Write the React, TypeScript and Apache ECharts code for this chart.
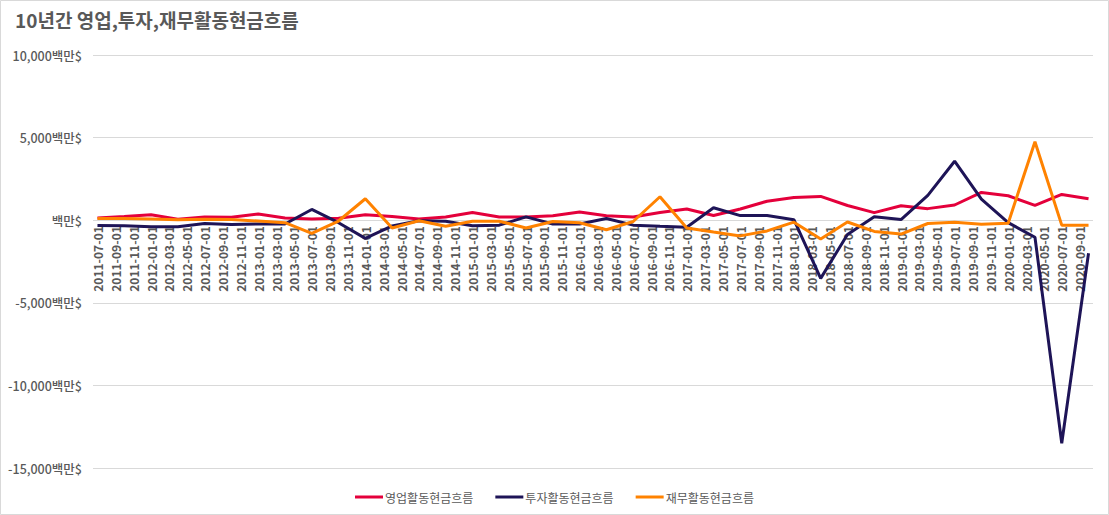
import React, { useEffect, useRef } from "react";
import * as echarts from "echarts";

const title = "10년간 영업,투자,재무활동현금흐름";
const seriesNames = ["영업활동현금흐름", "투자활동현금흐름", "재무활동현금흐름"];
const colors = ["#E4003B", "#1E1457", "#FF8200"];

// quarterly observation dates
const dates = [
  "2011-07-01", "2011-10-01", "2012-01-01", "2012-04-01", "2012-07-01", "2012-10-01",
  "2013-01-01", "2013-04-01", "2013-07-01", "2013-10-01", "2014-01-01", "2014-04-01",
  "2014-07-01", "2014-10-01", "2015-01-01", "2015-04-01", "2015-07-01", "2015-10-01",
  "2016-01-01", "2016-04-01", "2016-07-01", "2016-10-01", "2017-01-01", "2017-04-01",
  "2017-07-01", "2017-10-01", "2018-01-01", "2018-04-01", "2018-07-01", "2018-10-01",
  "2019-01-01", "2019-04-01", "2019-07-01", "2019-10-01", "2020-01-01", "2020-04-01",
  "2020-07-01", "2020-10-01",
];

const operating = [
  130, 220, 330, 60, 200, 180, 380, 130, 80, 120, 330, 220, 70, 190, 470, 190, 190, 270,
  500, 270, 190, 460, 680, 280, 680, 1150, 1370, 1440, 890, 460, 870, 700, 920, 1680,
  1480, 900, 1560, 1300,
];
const investing = [
  -320, -340, -400, -400, -200, -260, -230, -230, 650, -150, -1100, -350, -30, -60, -330,
  -300, 200, -230, -230, 100, -300, -370, -430, 750, 280, 280, 30, -3520, -870, 210, 40,
  1500, 3570, 1270, -150, -1030, -13500, -2000,
];
const financing = [
  100, 100, 80, 30, 60, 40, -50, -150, -800, -50, 1300, -470, -30, -370, -60, -60, -470,
  -80, -150, -580, -80, 1420, -470, -720, -950, -650, -120, -1140, -110, -680, -840, -200,
  -130, -250, -180, 4750, -300, -300,
];

const yMin = -15000;
const yMax = 10000;
const yStep = 5000;

// monthly date axis (Excel-style date axis) spanning the observations
function buildMonths(first: string, last: string): string[] {
  const out: string[] = [];
  let y = parseInt(first.slice(0, 4), 10);
  let m = parseInt(first.slice(5, 7), 10);
  const ly = parseInt(last.slice(0, 4), 10);
  const lm = parseInt(last.slice(5, 7), 10);
  while (y < ly || (y === ly && m <= lm)) {
    out.push(`${y}-${String(m).padStart(2, "0")}-01`);
    m += 1;
    if (m > 12) {
      m = 1;
      y += 1;
    }
  }
  return out;
}
const months = buildMonths(dates[0], dates[dates.length - 1]);

const FONT = "'Noto Sans CJK KR', 'Noto Sans', sans-serif";
const TEXT = "#595959";

const GRID_TOP = 55;
const GRID_BOTTOM = 47;
const CHART_H = 515;

export default function App() {
  const ref = useRef<HTMLDivElement>(null);
  useEffect(() => {
    if (!ref.current) return;
    const chart = echarts.init(ref.current, undefined, { renderer: "svg" });
    const values = [operating, investing, financing];
    // place the category axis where the value axis crosses zero
    const plotH = CHART_H - GRID_TOP - GRID_BOTTOM;
    const zeroFromBottom = ((0 - yMin) / (yMax - yMin)) * plotH;
    chart.setOption({
      animation: false,
      backgroundColor: "#ffffff",
      textStyle: { fontFamily: FONT },
      title: {
        text: title,
        left: 15,
        top: 10,
        padding: 0,
        textStyle: { fontFamily: FONT, fontSize: 19, fontWeight: "bold", color: TEXT },
      },
      graphic: [
        {
          type: "rect",
          shape: { x: 0.5, y: 0.5, width: 1108, height: 514 },
          style: { fill: "none", stroke: "#d9d9d9", lineWidth: 1 },
          silent: true,
        },
      ],
      legend: {
        left: "center",
        top: 486,
        icon: "rect",
        itemWidth: 28,
        itemHeight: 3,
        itemGap: 22,
        textStyle: { fontFamily: FONT, fontSize: 12, color: TEXT, padding: [0, 0, 0, -3] },
        data: seriesNames,
      },
      grid: {
        left: 93,
        right: 16,
        top: GRID_TOP,
        bottom: GRID_BOTTOM,
        containLabel: false,
        outerBoundsMode: "none",
      },
      xAxis: {
        type: "category",
        data: months,
        boundaryGap: true,
        offset: -zeroFromBottom,
        axisLine: { show: false, onZero: false },
        axisTick: { show: false },
        splitLine: { show: false },
        axisLabel: {
          interval: 1,
          rotate: 90,
          margin: 6,
          fontFamily: FONT,
          fontSize: 12,
          fontWeight: "bold",
          color: TEXT,
        },
      },
      yAxis: {
        type: "value",
        min: yMin,
        max: yMax,
        interval: yStep,
        axisLine: { show: false },
        axisTick: { show: false },
        splitLine: { lineStyle: { color: "#d9d9d9", width: 1 } },
        axisLabel: {
          margin: 11,
          fontFamily: FONT,
          fontSize: 12.5,
          fontWeight: 500,
          color: TEXT,
          formatter: (v: number) =>
            v === 0 ? "백만$" : `${v.toLocaleString("en-US")}백만$`,
        },
      },
      series: seriesNames.map((name, i) => ({
        name,
        type: "line",
        symbol: "none",
        color: colors[i],
        lineStyle: { color: colors[i], width: 3 },
        data: dates.map((d, k) => [d, values[i][k]]),
      })),
    });
    return () => chart.dispose();
  }, []);
  return (
    <div
      ref={ref}
      style={{ position: "absolute", left: 0, top: 0, width: 1109, height: 515 }}
    />
  );
}
